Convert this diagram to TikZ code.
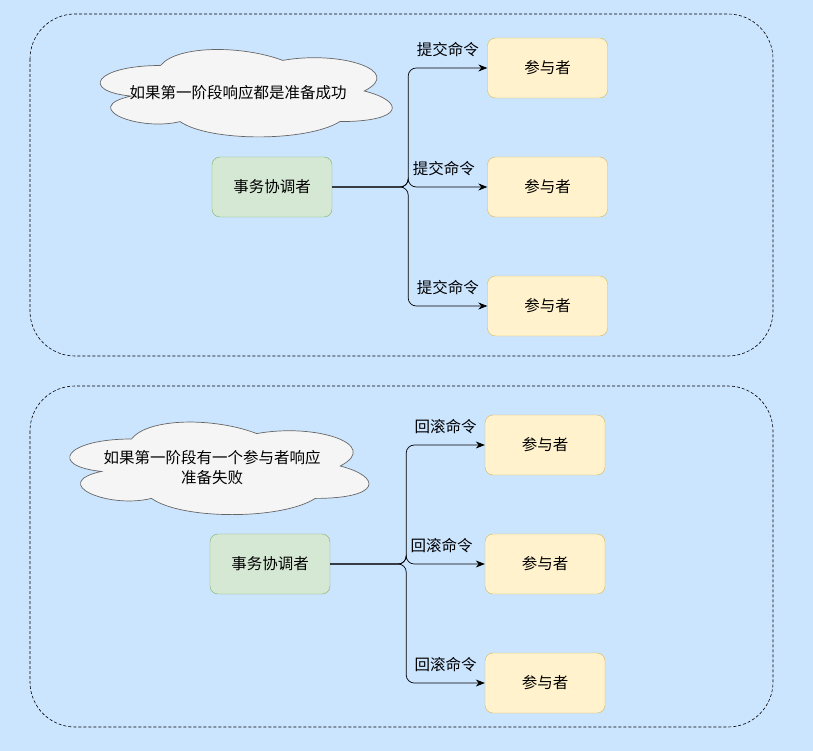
\documentclass[tikz,border=0pt]{standalone}
\usepackage{fontspec}
\setmainfont{Noto Sans CJK SC}
\usepackage{tikz}
\usetikzlibrary{positioning,arrows.meta,calc}
\definecolor{bgblue}{HTML}{CCE5FF}
\definecolor{coordfill}{HTML}{D5E8D4}
\definecolor{coorddraw}{HTML}{82B366}
\definecolor{partfill}{HTML}{FFF2CC}
\definecolor{partdraw}{HTML}{D6B656}
\definecolor{cloudfill}{HTML}{F5F5F5}
\definecolor{clouddraw}{HTML}{666666}
\tikzset{
  coordbox/.style={draw=coorddraw,fill=coordfill,rounded corners=8pt,align=center,
                   minimum width=120pt,minimum height=60pt,inner sep=2pt,
                   font=\fontsize{15.5}{18}\selectfont},
  partbox/.style={draw=partdraw,fill=partfill,rounded corners=8pt,align=center,
                  minimum width=120pt,minimum height=60pt,inner sep=2pt,
                  font=\fontsize{15.5}{18}\selectfont},
  note/.style={align=center,inner sep=0pt,font=\fontsize{15.5}{20}\selectfont},
  cloudline/.style={draw=clouddraw,fill=cloudfill,line width=0.7pt},
  frame/.style={draw=black,dashed,dash pattern=on 3pt off 2pt,rounded corners=45pt,line width=0.6pt},
  arr/.style={-{Stealth[length=9pt,width=7pt]},draw=black,line width=0.7pt,rounded corners=8pt},
  lbl/.style={above,font=\fontsize{15.5}{18}\selectfont,inner sep=2pt,yshift=9pt}
}
% cloud outline: #1 centre, #2 width, #3 height
\newcommand{\drawcloud}[3]{%
  \draw[cloudline,shift={#1},xscale=#2,yscale=#3]
    (-0.25,-0.25) .. controls (-0.45,-0.25) and (-0.5,0) .. (-0.34,0.05)
    .. controls (-0.5,0.16) and (-0.32,0.4) .. (-0.19,0.3)
    .. controls (-0.1,0.5) and (0.2,0.5) .. (0.3,0.3)
    .. controls (0.5,0.3) and (0.5,0.1) .. (0.375,0)
    .. controls (0.5,-0.2) and (0.3,-0.4) .. (0.125,-0.3)
    .. controls (0,-0.45) and (-0.2,-0.45) .. (-0.25,-0.25) -- cycle;}
\begin{document}
\begin{tikzpicture}[x=1pt,y=-1pt]
  \fill[bgblue] (0,0) rectangle (813,751);
  \useasboundingbox (0,0) rectangle (813,751);

  % commit phase
  \draw[frame] (30,14) rectangle (773,356);
  \drawcloud{(242,91)}{326}{102}
  \node[note] (okcloud) at (238,93) {如果第一阶段响应都是准备成功};
  \node[coordbox] (coordA) at (272,187) {事务协调者};
  \node[partbox] (partA1) at (547.5,68) {参与者};
  \node[partbox] (partA2) at (547.5,187) {参与者};
  \node[partbox] (partA3) at (547.5,306) {参与者};

  \draw[arr] (coordA.east) -- ++(76,0) |- node[lbl,pos=0.75]{提交命令} (partA1.west);
  \draw[arr] (coordA.east) -- ++(76,0) |- node[lbl,pos=0.75,xshift=-4pt]{提交命令} (partA2.west);
  \draw[arr] (coordA.east) -- ++(76,0) |- node[lbl,pos=0.75]{提交命令} (partA3.west);

  % rollback phase
  \draw[frame] (30,386) rectangle (773,727);
  \drawcloud{(215,466)}{334}{108}
  \node[note] (failcloud) at (212,468) {如果第一阶段有一个参与者响应\\准备失败};
  \node[coordbox] (coordB) at (270,564) {事务协调者};
  \node[partbox] (partB1) at (545,445) {参与者};
  \node[partbox] (partB2) at (545,564) {参与者};
  \node[partbox] (partB3) at (545,683) {参与者};

  \draw[arr] (coordB.east) -- ++(76,0) |- node[lbl,pos=0.75]{回滚命令} (partB1.west);
  \draw[arr] (coordB.east) -- ++(76,0) |- node[lbl,pos=0.75,xshift=-4pt]{回滚命令} (partB2.west);
  \draw[arr] (coordB.east) -- ++(76,0) |- node[lbl,pos=0.75]{回滚命令} (partB3.west);
\end{tikzpicture}
\end{document}
